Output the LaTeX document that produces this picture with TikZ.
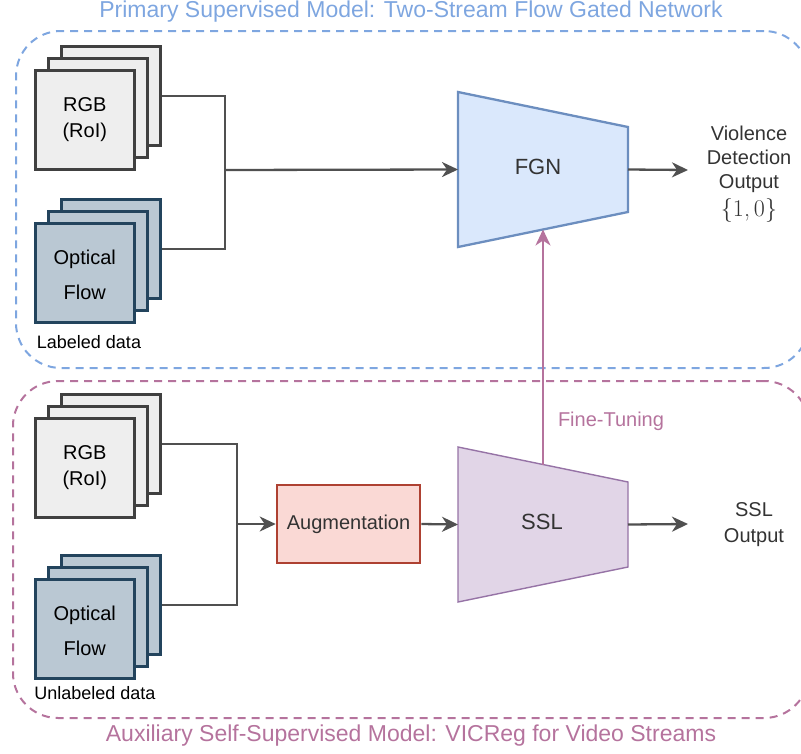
\documentclass[tikz,border=0pt]{standalone}
\usepackage{fontspec}
\setmainfont{Liberation Sans}
\newfontfamily\lmrfont{Latin Modern Roman}
\usetikzlibrary{arrows.meta,calc}

\definecolor{grpblue}{HTML}{7EA6E0}
\definecolor{grppink}{HTML}{B5739D}
\definecolor{rgbfill}{HTML}{EEEEEE}
\definecolor{rgbline}{HTML}{404040}
\definecolor{flowfill}{HTML}{BAC8D3}
\definecolor{flowline}{HTML}{23445D}
\definecolor{fgnfill}{HTML}{DAE8FC}
\definecolor{fgnline}{HTML}{6C8EBF}
\definecolor{sslfill}{HTML}{E1D5E7}
\definecolor{sslline}{HTML}{9673A6}
\definecolor{augfill}{HTML}{FAD9D5}
\definecolor{augline}{HTML}{AE4132}
\definecolor{connc}{HTML}{505050}
\definecolor{txt}{HTML}{333333}

\begin{document}
\begin{tikzpicture}[x=1pt,y=-1pt,
  conn/.style={draw=connc, line width=2.3pt},
  tip/.style={-{Stealth[length=16pt,width=15pt,inset=5pt]}},
  arr/.style={conn, tip},
  frame/.style={line width=2.6pt, minimum width=99pt, minimum height=99pt,
    inner sep=0pt, anchor=north west},
  rgbframe/.style={frame, draw=rgbline, fill=rgbfill},
  flowframe/.style={frame, draw=flowline, fill=flowfill},
  frametext/.style={align=center, text=black, font=\fontsize{20}{26}\selectfont},
  smalltext/.style={text=black, font=\fontsize{18}{22}\selectfont},
  grpbox/.style={line width=2pt, dash pattern=on 8pt off 6pt, rounded corners=45pt,
    anchor=north west, inner sep=0pt},
  grptitle/.style={font=\fontsize{23}{27}\selectfont},
  outtext/.style={align=center, text=txt, font=\fontsize{20}{24}\selectfont},
  modeltext/.style={text=txt, font=\fontsize{22}{26}\selectfont}]

\path[use as bounding box] (0,0) rectangle (801,753);
\clip (0,0) rectangle (801,753);

% group containers
\node[grpbox, draw=grpblue, minimum width=793pt, minimum height=337pt] (primary) at (15,30) {};
\node[grpbox, draw=grppink, minimum width=796pt, minimum height=337pt] (aux) at (12,380) {};
\node[grptitle, text=grpblue] (ptitle) at (411,12) {Primary Supervised Model: Two-Stream Flow Gated Network};
\node[grptitle, text=grppink] (atitle) at (411,736) {Auxiliary Self-Supervised Model: VICReg for Video Streams};

% labeled inputs
\node[rgbframe] (rgbA3) at (60,45) {};
\node[rgbframe] (rgbA2) at (47,57) {};
\node[rgbframe] (rgbA1) at (34,69) {};
\node[frametext] (rgbAt) at (rgbA1.center) {RGB\\(RoI)};
\node[flowframe] (flowA3) at (60,198) {};
\node[flowframe] (flowA2) at (47,210) {};
\node[flowframe] (flowA1) at (34,222) {};
\node[frametext, font=\fontsize{20}{35}\selectfont] (flowAt) at ($(flowA1.center)+(0,2)$) {Optical\\Flow};
\node[smalltext] (labeled) at (89,342) {Labeled data};

% unlabeled inputs
\node[rgbframe] (rgbB3) at (60,393) {};
\node[rgbframe] (rgbB2) at (47,405) {};
\node[rgbframe] (rgbB1) at (34,417) {};
\node[frametext] (rgbBt) at (rgbB1.center) {RGB\\(RoI)};
\node[flowframe] (flowB3) at (60,554) {};
\node[flowframe] (flowB2) at (47,566) {};
\node[flowframe] (flowB1) at (34,578) {};
\node[frametext, font=\fontsize{20}{35}\selectfont] (flowBt) at ($(flowB1.center)+(0,2)$) {Optical\\Flow};
\node[smalltext] (unlabeled) at (95,693) {Unlabeled data};

% FGN block
\coordinate (fgnTL) at (458,92);
\coordinate (fgnTR) at (628,127);
\coordinate (fgnBR) at (628,212);
\coordinate (fgnBL) at (458,247);
\draw[fill=fgnfill, draw=fgnline, line width=2.3pt, line join=miter]
  (fgnTL) -- (fgnTR) -- (fgnBR) -- (fgnBL) -- cycle;
\node[modeltext] (fgn) at (538,167) {FGN};
\coordinate (fgnW) at ($(fgnTL)!0.5!(fgnBL)$);
\coordinate (fgnE) at ($(fgnTR)!0.5!(fgnBR)$);
\coordinate (fgnS) at ($(fgnBL)!0.5!(fgnBR)$);

% SSL block
\coordinate (sslTL) at (458,447);
\coordinate (sslTR) at (628,482);
\coordinate (sslBR) at (628,567);
\coordinate (sslBL) at (458,602);
\draw[fill=sslfill, draw=sslline, line width=1.4pt, line join=miter]
  (sslTL) -- (sslTR) -- (sslBR) -- (sslBL) -- cycle;
\node[modeltext] (ssl) at (542,522) {SSL};
\coordinate (sslW) at ($(sslTL)!0.5!(sslBL)$);
\coordinate (sslE) at ($(sslTR)!0.5!(sslBR)$);
\coordinate (sslN) at ($(sslTL)!0.5!(sslTR)$);

% augmentation
\node[draw=augline, fill=augfill, line width=2.6pt, minimum width=143pt, minimum height=78pt,
  inner sep=0pt, text=txt, font=\fontsize{20}{24}\selectfont] (aug) at (348.5,524) {Augmentation};

% outputs
\node[outtext] (vdo) at (749,174) {Violence\\Detection\\Output\\[4pt]{\lmrfont\fontsize{24}{24}\selectfont\{1,\,0\}}};
\node[outtext, font=\fontsize{20}{26}\selectfont] (sslout) at (754,525) {SSL\\Output};
\coordinate (vdoIn) at (688,170);
\coordinate (ssloIn) at (688,524);

% labeled stream connectors
\coordinate (jA) at (225,170);
\draw[conn] (rgbA3.east) -| (jA);
\draw[conn] (flowA3.east) -| (jA);
\draw[arr] (jA) -- (fgnW);
\draw[arr] (fgnE) -- (vdoIn);

% unlabeled stream connectors
\coordinate (jB) at (237,524);
\draw[conn] (rgbB3.east) -| (jB);
\draw[conn] (flowB3.east) -| (jB);
\draw[arr] (jB) -- (aug.west);
\draw[arr] (aug.east) -- (sslW);
\draw[arr] (sslE) -- (ssloIn);

% fine-tuning link
\draw[draw=grppink, line width=2.3pt, tip] (sslN) -- (fgnS);
\node[text=grppink, font=\fontsize{20}{24}\selectfont] (ftlabel) at (611,421) {Fine-Tuning};

\end{tikzpicture}
\end{document}
